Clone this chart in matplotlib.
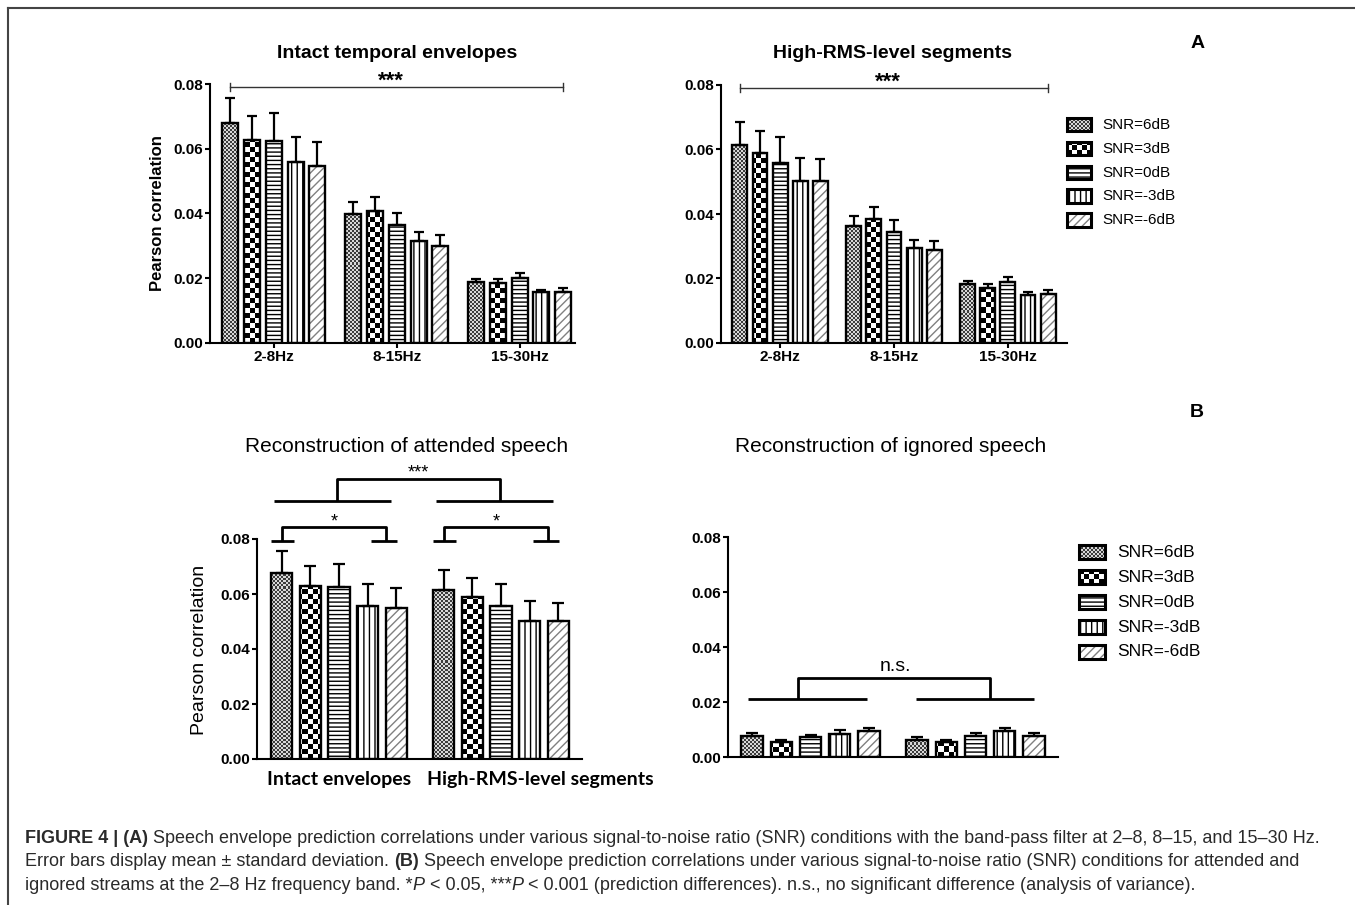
import numpy as np
import matplotlib
matplotlib.use('Agg')
import matplotlib.pyplot as plt
from matplotlib.lines import Line2D
from matplotlib.colors import to_rgb

plt.rcParams['font.family'] = ['Liberation Sans', 'DejaVu Sans']
plt.rcParams['hatch.linewidth'] = 1.0

W, H = 1355, 905

snr_labels = ['SNR=6dB', 'SNR=3dB', 'SNR=0dB', 'SNR=-3dB', 'SNR=-6dB']
bands = ['2-8Hz', '8-15Hz', '15-30Hz']
streams = ['Intact envelopes', 'High-RMS-level segments']

# rows: SNR condition, columns: frequency band
intact_mean = np.array([
    [0.0678, 0.0399, 0.0187],
    [0.0628, 0.0408, 0.0185],
    [0.0625, 0.0363, 0.0200],
    [0.0558, 0.0315, 0.0159],
    [0.0548, 0.0301, 0.0159],
])
intact_sd = np.array([
    [0.0078, 0.0036, 0.0010],
    [0.0073, 0.0042, 0.0013],
    [0.0084, 0.0040, 0.0015],
    [0.0078, 0.0029, 0.0006],
    [0.0074, 0.0032, 0.0012],
])
rms_mean = np.array([
    [0.0615, 0.0363, 0.0183],
    [0.0588, 0.0385, 0.0171],
    [0.0558, 0.0343, 0.0190],
    [0.0503, 0.0295, 0.0149],
    [0.0501, 0.0287, 0.0152],
])
rms_sd = np.array([
    [0.0071, 0.0032, 0.0009],
    [0.0070, 0.0036, 0.0013],
    [0.0080, 0.0037, 0.0014],
    [0.0070, 0.0025, 0.0008],
    [0.0068, 0.0030, 0.0012],
])

# ignored stream, 2-8 Hz; columns: intact envelopes, high-RMS segments
ignored_mean = np.array([
    [0.0078, 0.0063],
    [0.0053, 0.0055],
    [0.0073, 0.0078],
    [0.0085, 0.0093],
    [0.0093, 0.0078],
])
ignored_sd = np.array([
    [0.0009, 0.0009],
    [0.0008, 0.0007],
    [0.0008, 0.0008],
    [0.0012, 0.0014],
    [0.0014, 0.0009],
])

yticks = [0.0, 0.02, 0.04, 0.06, 0.08]

# fill style for each SNR condition
styles = [
    dict(hatch=None, hc='black', checker=(2, '#3c3c3c', '#d8d8d8')),
    dict(hatch=None, hc='black', checker=(5, 'black', 'white')),
    dict(hatch='----', hc='black', checker=None),
    dict(hatch='|||', hc='black', checker=None),
    dict(hatch='////', hc='#808080', checker=None),
]

PITCH, BW = 0.177, 0.13

fig = plt.figure(figsize=(W / 100, H / 100), dpi=100)


def px_axes(x0, y0, x1, y1):
    return fig.add_axes([x0 / W, 1 - y1 / H, (x1 - x0) / W, (y1 - y0) / H])


def checker(ax, patch, cell, c1, c2):
    bb = ax.bbox
    x0, x1 = ax.get_xlim()
    y0, y1 = ax.get_ylim()
    nx = int(np.ceil(bb.width / cell)) + 1
    ny = int(np.ceil(bb.height / cell)) + 1
    grid = np.add.outer(np.arange(ny), np.arange(nx)) % 2
    rgb = np.array([to_rgb(c1), to_rgb(c2)])[grid]
    ext = (x0, x0 + nx * cell * (x1 - x0) / bb.width,
           y0, y0 + ny * cell * (y1 - y0) / bb.height)
    im = ax.imshow(rgb, extent=ext, origin='lower', interpolation='nearest',
                   aspect='auto', zorder=1.5)
    im.set_clip_path(patch)
    ax.set_xlim(x0, x1)
    ax.set_ylim(y0, y1)


def paint_bars(ax, x, h, width, st, lw, clip=True):
    base = ax.bar(x, h, width, color='white', hatch=st['hatch'],
                  edgecolor=st['hc'], linewidth=0, zorder=1)
    if st['checker']:
        for p in base:
            checker(ax, p, *st['checker'])
    edge = ax.bar(x, h, width, fill=False, edgecolor='black', linewidth=lw, zorder=3)
    if not clip:
        for p in edge:
            p.set_clip_on(False)


def draw_groups(ax, means, sds, cap):
    groups = np.arange(means.shape[1])
    for i, st in enumerate(styles):
        x = groups + (i - 2) * PITCH
        paint_bars(ax, x, means[i], BW, st, 1.7)
        ax.errorbar(x, means[i], yerr=[np.zeros_like(sds[i]), sds[i]], fmt='none',
                    ecolor='black', elinewidth=1.6, capsize=cap, capthick=1.6, zorder=4)


def style_axes(ax, xlim):
    ax.set_xlim(*xlim)
    ax.set_ylim(0, 0.08)
    ax.set_yticks(yticks, [f'{v:.2f}' for v in yticks], fontweight='bold', fontsize=11)
    for s in ['top', 'right']:
        ax.spines[s].set_visible(False)
    for s in ['left', 'bottom']:
        ax.spines[s].set_linewidth(1.5)
    ax.tick_params(width=1.5, length=3.5, pad=1.5)


def legend(x_px, rows_px, w_px, h_px, tx_px, size):
    for st, lab, yc in zip(styles, snr_labels, rows_px):
        sw = fig.add_axes([x_px / W, 1 - (yc + h_px / 2) / H, w_px / W, h_px / H])
        sw.set_xlim(0, 1)
        sw.set_ylim(0, 1)
        sw.axis('off')
        paint_bars(sw, [0.5], [1.0], 1.0, st, 2.2, clip=False)
        fig.text(tx_px / W, 1 - yc / H, lab, va='center', fontsize=size)


def bracket(ax, pts, **kw):
    xs, ys = zip(*pts)
    ax.plot(xs, ys, color='black', clip_on=False, solid_capstyle='butt', **kw)


# ---- panel A ----
axA1 = px_axes(210, 84, 575, 343)
axA2 = px_axes(721, 85, 1067, 343)
for ax, m, s, xl in [(axA1, intact_mean, intact_sd, (-0.52, 2.45)),
                     (axA2, rms_mean, rms_sd, (-0.52, 2.52))]:
    style_axes(ax, xl)
    draw_groups(ax, m, s, 3.3)
    ax.set_xticks(range(len(bands)), bands, fontweight='bold', fontsize=11)
    x0, x1 = -2 * PITCH, len(bands) - 1 + 2 * PITCH
    y = 0.0791
    ax.plot([x0, x1], [y, y], color='#333333', lw=1, clip_on=False)
    for xe in (x0, x1):
        ax.plot([xe, xe], [y - 0.0013, y + 0.0013], color='#333333', lw=1, clip_on=False)
    ax.text(0.95, y - 0.0016, '***', ha='center', va='bottom',
            fontsize=16, fontweight='bold')

fig.text(397 / W, 1 - 53 / H, 'Intact temporal envelopes', ha='center', va='center',
         fontsize=14, fontweight='bold')
fig.text(893 / W, 1 - 53 / H, 'High-RMS-level segments', ha='center', va='center',
         fontsize=14, fontweight='bold')
fig.text(158 / W, 1 - 213 / H, 'Pearson correlation', rotation=90, ha='center',
         va='center', fontsize=12, fontweight='bold')
legend(1067, [125, 149, 173, 196, 220], 24, 13, 1102, 11)

# ---- panel B ----
axB1 = px_axes(257, 539, 582, 759)
axB2 = px_axes(728, 537, 1058, 757)

attended_mean = np.column_stack([intact_mean[:, 0], rms_mean[:, 0]])
attended_sd = np.column_stack([intact_sd[:, 0], rms_sd[:, 0]])

style_axes(axB1, (-0.506, 1.5))
draw_groups(axB1, attended_mean, attended_sd, 4)
style_axes(axB2, (-0.5, 1.5))
draw_groups(axB2, ignored_mean, ignored_sd, 4)
for ax in (axB1, axB2):
    ax.set_xticks([])

tf = axB1.get_xaxis_transform()
axB1.text(0, -0.095, streams[0], transform=tf, ha='center', va='center',
          fontsize=14, fontweight='bold', family=['Lato', 'DejaVu Sans'])
axB1.text(1 - 0.457, -0.095, streams[1], transform=tf, ha='left', va='center',
          fontsize=14, fontweight='bold', family=['Lato', 'DejaVu Sans'])

# significance brackets, attended speech
for g in (0, 1):
    bracket(axB1, [(g - 0.40, 0.0938), (g + 0.32, 0.0938)], lw=2)
    bracket(axB1, [(g - 0.42, 0.0793), (g - 0.28, 0.0793)], lw=2)
    bracket(axB1, [(g + 0.20, 0.0793), (g + 0.36, 0.0793)], lw=2)
    bracket(axB1, [(g - 0.352, 0.0793), (g - 0.352, 0.0844), (g + 0.288, 0.0844),
                   (g + 0.288, 0.0793)], lw=2)
    axB1.text(g - 0.03, 0.0862, '*', ha='center', va='center', fontsize=13,
              clip_on=False)
bracket(axB1, [(-0.01, 0.0938), (-0.01, 0.1018), (0.995, 0.1018), (0.995, 0.0938)], lw=2)
axB1.text(0.49, 0.1040, '***', ha='center', va='center', fontsize=13, clip_on=False)

# ignored speech
bracket(axB2, [(-0.376, 0.0211), (0.345, 0.0211)], lw=2)
bracket(axB2, [(1 - 0.358, 0.0211), (1 + 0.352, 0.0211)], lw=2)
bracket(axB2, [(-0.073, 0.0211), (-0.073, 0.0287), (1.09, 0.0287), (1.09, 0.0211)], lw=2)
axB2.text(0.515, 0.0330, 'n.s.', ha='center', va='center', fontsize=14)

fig.text(407 / W, 1 - 446 / H, 'Reconstruction of attended speech', ha='center',
         va='center', fontsize=15)
fig.text(891 / W, 1 - 446 / H, 'Reconstruction of ignored speech', ha='center',
         va='center', fontsize=15)
fig.text(200 / W, 1 - 650 / H, 'Pearson correlation', rotation=90, ha='center',
         va='center', fontsize=14)
legend(1079, [552, 577, 602, 627, 652], 26, 14, 1117, 12.5)

fig.text(1198 / W, 1 - 43 / H, 'A', ha='center', va='center', fontsize=14, fontweight='bold')
fig.text(1197 / W, 1 - 412 / H, 'B', ha='center', va='center', fontsize=14, fontweight='bold')

# frame
fig.add_artist(Line2D([8 / W, 1], [1 - 8 / H, 1 - 8 / H], color='#444444', lw=1.5))
fig.add_artist(Line2D([8 / W, 8 / W], [0, 1 - 8 / H], color='#444444', lw=1.5))

# caption
cap_color = '#2a2a2a'
cap_size = 13
renderer = fig.canvas.get_renderer()


def text_width(s, **kw):
    t = fig.text(0, 0, s, fontsize=cap_size, **kw)
    w = t.get_window_extent(renderer).width
    t.remove()
    return w


def caption_line(y_px, runs):
    x = 25.0
    for s, kw in runs:
        sp = text_width('x x', **kw) - text_width('xx', **kw)
        if s.startswith(' '):
            x += sp
        body = s.strip()
        t = fig.text(x / W, 1 - y_px / H, body, fontsize=cap_size, color=cap_color,
                     va='center', **kw)
        x += t.get_window_extent(renderer).width
        if s.endswith(' '):
            x += sp


B = dict(fontweight='bold')
N = dict()
I = dict(fontstyle='italic')
caption_line(838, [('FIGURE 4 | (A)', B),
                   (' Speech envelope prediction correlations under various signal-to-noise '
                    'ratio (SNR) conditions with the band-pass filter at 2–8, 8–15, and 15–30 Hz.', N)])
caption_line(861, [('Error bars display mean ± standard deviation. ', N), ('(B)', B),
                   (' Speech envelope prediction correlations under various signal-to-noise '
                    'ratio (SNR) conditions for attended and', N)])
caption_line(885, [('ignored streams at the 2–8 Hz frequency band. *', N), ('P', I),
                   (' < 0.05, ***', N), ('P', I),
                   (' < 0.001 (prediction differences). n.s., no significant difference '
                    '(analysis of variance).', N)])

fig.savefig('out.png', dpi=100)
